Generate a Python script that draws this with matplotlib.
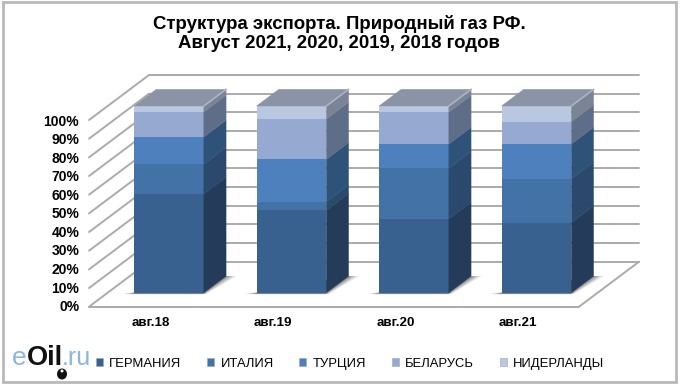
import matplotlib
matplotlib.use('Agg')
import matplotlib.pyplot as plt
from matplotlib.patches import Polygon, Rectangle, Ellipse

plt.rcParams['font.family'] = ['Liberation Sans', 'DejaVu Sans']

# данные
months = ['авг.18', 'авг.19', 'авг.20', 'авг.21']
germany = [52.9, 44.1, 39.5, 37.5]
italy = [15.9, 4.6, 27.1, 23.4]
turkey = [14.6, 22.7, 13.0, 18.7]
belarus = [13.4, 21.6, 17.1, 12.0]
netherlands = [3.2, 7.0, 3.3, 8.4]
series = [germany, italy, turkey, belarus, netherlands]
names = ['ГЕРМАНИЯ', 'ИТАЛИЯ', 'ТУРЦИЯ', 'БЕЛАРУСЬ', 'НИДЕРЛАНДЫ']
percent_ticks = list(range(0, 101, 10))

front_colors = ['#386190', '#4372A6', '#4E80BD', '#95A9D1', '#BAC7E1']
side_colors = ['#243C5A', '#2B486D', '#2F5279', '#5E6E88', '#7A8494']
top_color = '#8B93A6'
grid_color = '#ABABAB'

W, H = 681, 385
fig = plt.figure(figsize=(W / 100, H / 100), dpi=100)
fig.patch.set_facecolor('white')

# рамка картинки
fig.add_artist(Rectangle((2.5 / W, 1 - 381.5 / H), 673 / W, 380 / H, transform=fig.transFigure,
                         fill=False, ec='#B9B9B9', lw=2))

# ось совпадает с передней плоскостью столбцов
left, right, bottom, top = 107.7, 597.7, 292.7, 106.0
ax = fig.add_axes([left / W, 1 - bottom / H, (right - left) / W, (bottom - top) / H])
ax.set_xlim(-0.5, 3.5)
ax.set_ylim(0, 100)
ax.axis('off')

# косая проекция: depth 0 - перед столбца, 1 - вся глубина пола
shear_x = 60 * 4 / (right - left)
shear_y = 45 * 100 / (bottom - top)
bar_w = 0.57
bar_depth = 0.37
floor_front = -0.311
floor_back = floor_front + 1


def proj(x, y, depth):
    return (x + depth * shear_x, y + depth * shear_y)


def poly(points, **kw):
    p = Polygon(points, closed=True, clip_on=False, **kw)
    ax.add_patch(p)
    return p


def line(a, b, **kw):
    ax.plot([a[0], b[0]], [a[1], b[1]], color=grid_color, lw=1.4, clip_on=False,
            solid_capstyle='round', **kw)


# стены и пол
for t in percent_ticks:
    line(proj(-0.5, t, floor_front), proj(-0.5, t, floor_back))
    line(proj(-0.5, t, floor_back), proj(3.5, t, floor_back))
    # подписи чуть плотнее сетки
    ax.text(proj(-0.5, t, floor_front)[0] - 0.08, proj(-0.5, t, floor_front)[1] - 0.2 - t * 0.007,
            f'{t}%', ha='right', va='center', fontsize=10, fontweight='bold', color='black')
line(proj(-0.5, 0, floor_front), proj(3.5, 0, floor_front))
line(proj(3.5, 0, floor_front), proj(3.5, 0, floor_back))

for i, month in enumerate(months):
    x0 = i - bar_w / 2
    x1 = i + bar_w / 2

    # тень на полу
    for grow, alpha in [(0.085, 0.14), (0.06, 0.2), (0.035, 0.28), (0.012, 0.38)]:
        poly([proj(x0 - grow, 0, -0.03), proj(x1 + grow * 0.4, 0, -0.03),
              proj(x1 + grow, 0, bar_depth), proj(x1, 0, bar_depth)],
             fc='#4A4A4A', ec='none', alpha=alpha)

    base = 0
    for values, fc, sc in zip(series, front_colors, side_colors):
        v = values[i]
        ax.bar(i, v, bar_w, bottom=base, color=fc, zorder=3, clip_on=False)
        poly([proj(x1, base, 0), proj(x1, base + v, 0),
              proj(x1, base + v, bar_depth), proj(x1, base, bar_depth)],
             fc=sc, ec=sc, lw=0.3, zorder=3)
        base += v

    poly([proj(x0, base, 0), proj(x1, base, 0),
          proj(x1, base, bar_depth), proj(x0, base, bar_depth)],
         fc=top_color, ec=top_color, lw=0.3, zorder=3)
    ax.plot(*zip(proj(x1, base, 0), proj(x1, base, bar_depth)), color='#ABB3C4', lw=1.2,
            zorder=4, clip_on=False)

    label_x, label_y = proj(i, 0, floor_front)
    ax.text(label_x + 0.003, -16.3, month, ha='center', va='center', fontsize=9.6,
            fontweight='bold', color='black')

# заголовок
fig.text(339 / W, 1 - 24 / H, 'Структура экспорта. Природный газ РФ.', ha='center', va='center',
         fontsize=13.4, fontweight='bold', color='black')
fig.text(339 / W, 1 - 44 / H, 'Август 2021, 2020, 2019, 2018 годов', ha='center', va='center',
         fontsize=13.4, fontweight='bold', color='black')

# легенда
handles = [Rectangle((0, 0), 1, 1, fc=c, ec='#9AA5B5', lw=0.4) for c in front_colors]
fig.legend(handles, names, loc='center left', bbox_to_anchor=(95.5 / W, 1 - 364 / H), ncols=5,
           frameon=False, fontsize=9.4, handlelength=0.55, handleheight=0.55, handletextpad=0.5,
           columnspacing=1.95, borderaxespad=0, borderpad=0)

# логотип
fig.text(12 / W, 1 - 358 / H, 'e', fontsize=19, color='#8DB6DC', ha='left', va='center')
fig.text(27 / W, 1 - 358 / H, 'Oil', fontsize=19.5, fontweight='bold', color='#111111', ha='left', va='center')
fig.text(62 / W, 1 - 358 / H, '.ru', fontsize=18, color='#8DB6DC', ha='left', va='center')
fig.add_artist(Ellipse((62 / W, 1 - 374 / H), 10 / W, 11 / H, transform=fig.transFigure, fc='#111111', ec='none'))
fig.add_artist(Ellipse((62 / W, 1 - 371 / H), 3 / W, 3 / H, transform=fig.transFigure, fc='white', ec='none'))

fig.savefig('out.png', dpi=100)
